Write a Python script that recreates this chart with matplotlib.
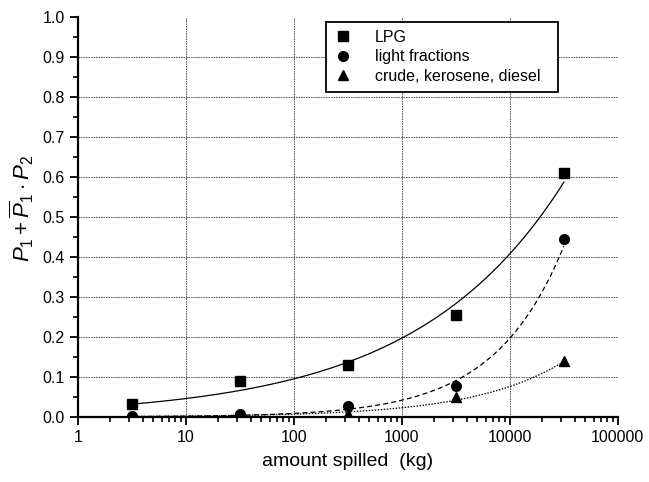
import numpy as np
import matplotlib
matplotlib.use("Agg")
import matplotlib.pyplot as plt
from matplotlib.ticker import LogLocator, MultipleLocator, FixedLocator, FixedFormatter

plt.rcParams['font.family'] = ['Liberation Sans', 'DejaVu Sans']
plt.rcParams['mathtext.fontset'] = 'custom'
plt.rcParams['mathtext.rm'] = 'Liberation Sans'
plt.rcParams['mathtext.it'] = 'Liberation Sans:italic'

# amount spilled (kg)
amount = [3.16, 31.6, 316, 3162, 31623]

# P1 + P1bar * P2 for each substance class
lpg = [0.033, 0.090, 0.131, 0.254, 0.609]
light = [0.003, 0.008, 0.027, 0.077, 0.445]
crude = [0.003, 0.006, 0.008, 0.049, 0.139]

# power-law fits y = a * x**b
lpg_fit = (0.0222, 0.316)
light_fit = (0.00040, 0.673)
crude_fit = (0.000633, 0.520)

x_ticks = [1, 10, 100, 1000, 10000, 100000]
x_tick_labels = ["1", "10", "100", "1000", "10000", "100000"]

fig = plt.figure(figsize=(6.49, 4.82), dpi=100)
ax = fig.add_axes([0.120, 0.135, 0.832, 0.830])

xs = np.logspace(np.log10(amount[0]), np.log10(amount[-1]), 300)
for (a, b), ls in [(lpg_fit, '-'), (light_fit, (0, (4, 2.5))), (crude_fit, (0, (1.2, 1.2)))]:
    ax.plot(xs, a * xs ** b, color='black', lw=0.9, ls=ls, zorder=3)

ax.plot(amount, lpg, ls='none', marker='s', ms=6.5, color='black', label='LPG', zorder=4)
ax.plot(amount, light, ls='none', marker='o', ms=7, color='black', label='light fractions', zorder=4)
ax.plot(amount, crude, ls='none', marker='^', ms=7.5, color='black', label='crude, kerosene, diesel', zorder=4)

ax.set_xscale('log')
ax.set_xlim(1, 100000)
ax.set_ylim(0, 1.0)
ax.xaxis.set_major_locator(FixedLocator(x_ticks))
ax.xaxis.set_major_formatter(FixedFormatter(x_tick_labels))
ax.xaxis.set_minor_locator(LogLocator(base=10, subs=np.arange(2, 10)))
ax.yaxis.set_major_locator(MultipleLocator(0.1))
ax.yaxis.set_minor_locator(MultipleLocator(0.05))
ax.yaxis.set_major_formatter(matplotlib.ticker.FormatStrFormatter('%.1f'))

ax.spines['top'].set_visible(False)
ax.spines['right'].set_visible(False)
ax.spines['left'].set_linewidth(1.6)
ax.spines['bottom'].set_linewidth(1.6)

ax.tick_params(which='major', direction='out', length=6, width=1.3, labelsize=11.5)
ax.tick_params(which='minor', direction='out', length=3.5, width=1.2)

# grid lines at the interior decades and tenths only
grid_style = dict(color='0.25', lw=0.6, ls=(0, (2, 1)), zorder=1)
for xv in x_ticks[1:-1]:
    ax.axvline(xv, **grid_style)
for yv in np.arange(1, 10) / 10:
    ax.axhline(yv, **grid_style)

ax.set_xlabel('amount spilled  (kg)', fontsize=14, labelpad=6)
ax.set_ylabel(r'$P_1+\overline{P}_1\cdot P_2$', fontsize=16)
ax.yaxis.set_label_coords(-0.078, 0.52)

leg = ax.legend(loc='upper left', bbox_to_anchor=(0.459, 0.0, 0.431, 0.9875),
                mode='expand', frameon=True,
                fancybox=False, edgecolor='black', fontsize=11.5,
                handlelength=1.2, handletextpad=1.4, borderpad=0.5,
                labelspacing=0.28, borderaxespad=0)
leg.get_frame().set_linewidth(1.3)
leg.get_frame().set_alpha(1)

fig.savefig('out.png', dpi=100)
